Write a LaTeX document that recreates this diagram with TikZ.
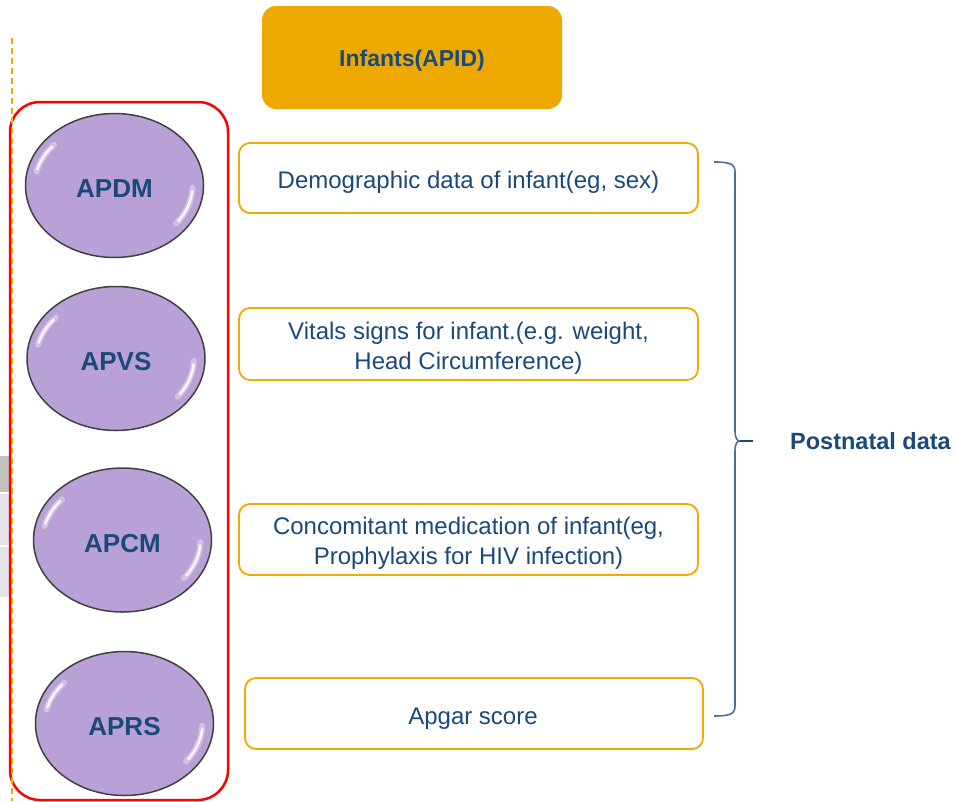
\documentclass[tikz,border=0pt]{standalone}
\usepackage{fontspec}
\setmainfont{Liberation Sans}
\usetikzlibrary{shapes.geometric}
\definecolor{navy}{RGB}{26,74,122}
\definecolor{gold}{RGB}{237,169,0}
\definecolor{boxor}{RGB}{240,170,0}
\definecolor{lav}{RGB}{185,160,214}
\definecolor{bracec}{RGB}{76,110,150}
\definecolor{grayA}{RGB}{192,192,192}
\definecolor{grayB}{RGB}{228,228,232}
\tikzset{
  ov/.style={ellipse, draw=black!75, line width=1.5pt, fill=lav, minimum width=178pt, minimum height=144pt, inner sep=0pt,
    text=navy, font=\fontsize{26}{30}\selectfont\bfseries, text height=24.6pt, text depth=0pt},
  ib/.style={draw=boxor, line width=1.8pt, rounded corners=11pt, fill=white, minimum width=459pt, minimum height=70pt, inner sep=0pt},
  it/.style={align=center, text=navy, font=\fontsize{24}{30}\selectfont, inner sep=0pt},
  glossA/.style={white, opacity=.35, line width=6pt, line cap=round},
  glossB/.style={white, opacity=.85, line width=2.5pt, line cap=round},
}
\newcommand{\glossy}[1]{%
  \draw[glossA] ([shift={(193:80 and 62)}]#1.center) arc[start angle=193, end angle=221, x radius=80, y radius=62];
  \draw[glossA] ([shift={(2:78 and 62)}]#1.center) arc[start angle=2, end angle=38, x radius=78, y radius=62];
  \draw[glossB] ([shift={(195:80 and 62)}]#1.center) arc[start angle=195, end angle=219, x radius=80, y radius=62];
  \draw[glossB] ([shift={(5:78 and 62)}]#1.center) arc[start angle=5, end angle=35, x radius=78, y radius=62];
}
\begin{document}
\begin{tikzpicture}[x=1pt,y=-1pt]
\useasboundingbox (0,0) rectangle (955,801);
% left gray strips
\fill[grayA] (0,456) rectangle (9,492);
\fill[grayB] (0,494) rectangle (9,545);
\fill[grayB] (0,547) rectangle (9,597);
% top box
\node[fill=gold, rounded corners=14pt, minimum width=300pt, minimum height=103pt, inner sep=0pt] (top) at (412,57.5) {};
\node[text=navy, font=\fontsize{23}{28}\selectfont\bfseries, inner sep=0pt] (toptxt) at (412,61) {Infants(APID)};
% red group frame
\node[draw=red, line width=2.5pt, rounded corners=30pt, minimum width=218pt, minimum height=698pt, inner sep=0pt] (grp) at (119,451) {};
% dashed guide line
\coordinate (dtop) at (12,38);
\coordinate (dbot) at (12,801);
\draw[boxor, line width=1.8pt, dash pattern=on 6pt off 4pt] (dtop) -- (dbot);
% ellipses
\node[ov] (apdm) at (114.5,185.5) {APDM};
\node[ov] (apvs) at (116,358.5) {APVS};
\node[ov] (apcm) at (122.5,540) {APCM};
\node[ov] (aprs) at (124.5,723.5) {APRS};
\glossy{apdm}\glossy{apvs}\glossy{apcm}\glossy{aprs}
% boxes
\node[ib] (b1) at (468.5,178) {};
\node[it] (t1) at (468.5,182) {Demographic data of infant(eg, sex)};
\node[ib, minimum height=72pt] (b2) at (468.5,344) {};
\node[it] (t2) at (468.5,348.5) {Vitals signs for infant.(e.g. weight,\\Head Circumference)};
\node[ib, minimum height=71pt] (b3) at (468.5,539.5) {};
\node[it] (t3) at (468.5,543.5) {Concomitant medication of infant(eg,\\Prophylaxis for HIV infection)};
\node[ib, minimum width=458pt, minimum height=71pt] (b4) at (474,713.5) {};
\node[it] (t4) at (473,719) {Apgar score};
% brace
\coordinate (bt) at (714,162);
\coordinate (bb) at (714,716);
\coordinate (bm) at (740,441);
\coordinate (tip) at (753,441);
\draw[bracec, line width=1.6pt] (bt) .. controls (730,162) and (735,164) .. (735,172) -- (735,431)
  .. controls (735,438) and (737,441) .. (bm)
  .. controls (737,441) and (735,444) .. (735,451) -- (735,706)
  .. controls (735,714) and (730,716) .. (bb);
\draw[navy, line width=1.8pt] (bm) -- (tip);
\node[anchor=west, inner sep=0pt, text=navy, font=\fontsize{23.5}{28}\selectfont\bfseries] (post) at (790,441) {Postnatal data};
\end{tikzpicture}
\end{document}
